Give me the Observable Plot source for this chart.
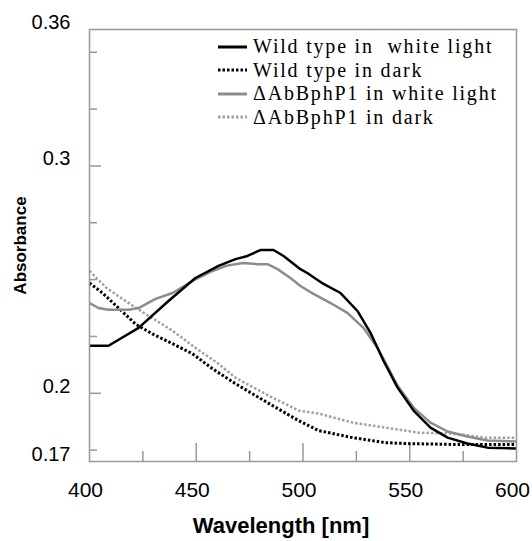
<!DOCTYPE html>
<html><head>
<meta charset="utf-8">
<script src="https://cdn.jsdelivr.net/npm/d3@7"></script>
<script src="https://cdn.jsdelivr.net/npm/@observablehq/plot@0.6"></script>
<style>
body{margin:0;background:#fff}
#wrap{position:relative;width:532px;height:541px}
#legend{position:absolute;left:218px;top:35px;font-family:"Liberation Serif","Times New Roman",serif;font-size:20px;letter-spacing:1.8px;color:#000;line-height:23.5px}
#legend .row{display:flex;align-items:center;white-space:pre}
#legend svg{width:32px;height:10px;margin-right:3px}
</style>
</head><body><div id="wrap"><div id="legend"></div></div>
<script>
const seriesNames = ["Wild type in  white light","Wild type in dark","ΔAbBphP1 in white light","ΔAbBphP1 in dark"];
const seriesColors = ["#000000","#000000","#8c8c8c","#a0a0a0"];
const seriesDash = [null,"2.5,2",null,"2.5,2"];
const seriesWidth = [2.5,3,2.5,2.5];

const wtLightWl  = [400,408.9,423,437,449.6,460.4,468.4,474,480,486.2,490.9,498.8,502,509.6,517.6,525.5,531.6,537.7,544.3,551.8,559.7,567.7,577,586.4,600];
const wtLightAbs = [0.2209,0.2209,0.2288,0.2406,0.2507,0.2560,0.2590,0.2604,0.2630,0.2630,0.2604,0.2546,0.2529,0.2481,0.2441,0.2362,0.2266,0.2143,0.2025,0.1924,0.1849,0.1805,0.1779,0.1761,0.1757];

const wtDarkWl  = [400,406.1,413.6,421.5,429.5,438.9,448.2,457.6,468.4,476.3,485.7,497.9,507.3,523.2,538.6,548,570,600];
const wtDarkAbs = [0.2485,0.2441,0.2375,0.2305,0.2261,0.2218,0.2174,0.2108,0.2042,0.1998,0.1946,0.1880,0.1836,0.1805,0.1783,0.1779,0.1775,0.1775];

const mutLightWl  = [400,404.2,408.9,418.3,423,430.9,438.9,448.2,457.6,463.7,468.4,472.1,478.7,483.4,488.1,494.1,498.8,504.9,512.9,520.8,528.3,534.9,537.7,544.3,551.8,559.7,567.7,577,586.4,600];
const mutLightAbs = [0.2397,0.2375,0.2367,0.2367,0.2375,0.2415,0.2441,0.2494,0.2538,0.2560,0.2568,0.2573,0.2568,0.2568,0.2546,0.2507,0.2472,0.2437,0.2397,0.2354,0.2288,0.2200,0.2152,0.2033,0.1937,0.1871,0.1832,0.1810,0.1792,0.1788];

const mutDarkWl  = [400,408,416.9,426.2,438.9,449.6,460.4,468.4,485.7,497.9,507.3,523.2,538.6,554.1,570,585.5,600];
const mutDarkAbs = [0.2538,0.2463,0.2406,0.2349,0.2275,0.2200,0.2130,0.2068,0.1981,0.1924,0.1911,0.1871,0.1849,0.1827,0.1823,0.1805,0.1805];

const xTickLabels = [400,450,500,550,600];
const xMajorTicks = [450,500,550];
const xMinorTicks = [425,475,525,575];
const yTickLabels = [0.36,0.3,0.2,0.17];
const yMajorTicks = [0.3,0.2];
const yMinorTicks = [0.35,0.325,0.275,0.25,0.225,0.175];

const seriesWl = [wtLightWl, wtDarkWl, mutLightWl, mutDarkWl];
const seriesAbs = [wtLightAbs, wtDarkAbs, mutLightAbs, mutDarkAbs];

const W = 532, H = 541, mL = 89, mR = 16, mT = 29, mB = 80;
const innerW = W - mL - mR, innerH = H - mT - mB;
const gray = "#999";

const drawOrder = [3,1,2,0];
const lineMarks = drawOrder.map(i => Plot.line(
  seriesWl[i].map((w, j) => ({wl: w, abs: seriesAbs[i][j]})),
  {x: "wl", y: "abs", stroke: seriesColors[i], strokeWidth: seriesWidth[i],
   strokeDasharray: seriesDash[i] || undefined, strokeLinecap: "butt", strokeLinejoin: "round", curve: "linear"}
));

const plot = Plot.plot({
  width: W, height: H,
  marginLeft: mL, marginRight: mR, marginTop: mT, marginBottom: mB,
  x: {domain: [400, 600]},
  y: {domain: [0.17, 0.36]},
  style: {fontFamily: "'Liberation Sans', Arial, sans-serif", background: "#fff", color: "#000"},
  marks: [
    Plot.tickX(xMajorTicks, {x: d => d, stroke: gray, strokeWidth: 1.5, insetTop: innerH - 18}),
    Plot.tickX(xMinorTicks, {x: d => d, stroke: gray, strokeWidth: 1.5, insetTop: innerH - 10}),
    Plot.tickY(yMajorTicks, {y: d => d, stroke: gray, strokeWidth: 1.5, insetRight: innerW - 12}),
    Plot.tickY(yMinorTicks, {y: d => d, stroke: gray, strokeWidth: 1.5, insetRight: innerW - 8}),
    Plot.axisX({ticks: xTickLabels, tickSize: 0, tickPadding: 21, fontSize: 21, label: null, tickFormat: d => String(d), dx: -4}),
    Plot.axisY({ticks: yTickLabels, tickSize: 0, tickPadding: 19, fontSize: 20, label: null, tickFormat: d => String(d), dy: -7}),
    ...lineMarks,
    Plot.frame({stroke: gray, strokeWidth: 1.5}),
    Plot.text(["Wavelength [nm]"], {frameAnchor: "bottom", dy: 64, dx: -22, fontSize: 22, fontWeight: "bold", lineAnchor: "middle", style: "letter-spacing:1.5px"}),
    Plot.text(["Absorbance"], {frameAnchor: "left", dx: -69, rotate: -90, fontSize: 17, fontWeight: "bold", lineAnchor: "middle", textAnchor: "middle"})
  ]
});
document.getElementById("wrap").prepend(plot);

const legend = document.getElementById("legend");
seriesNames.forEach((name, i) => {
  const row = document.createElement("div");
  row.className = "row";
  const dash = seriesDash[i] ? `stroke-dasharray="${seriesDash[i]}"` : "";
  row.innerHTML = `<svg viewBox="0 0 32 10"><line x1="0" y1="5" x2="29" y2="5" stroke="${seriesColors[i]}" stroke-width="3" ${dash}/></svg><span>${name}</span>`;
  legend.appendChild(row);
});
</script>
</body></html>
